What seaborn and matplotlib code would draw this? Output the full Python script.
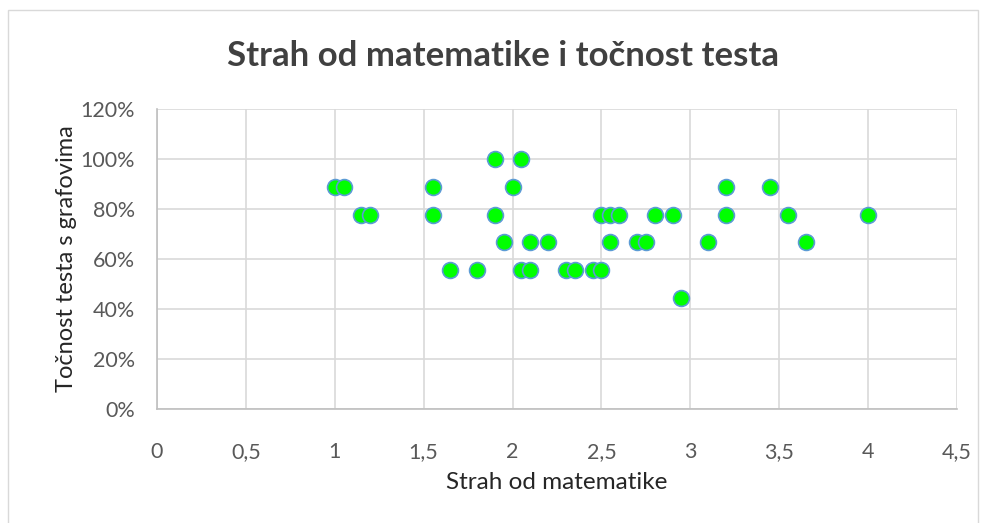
import numpy as np
import pandas as pd
import seaborn as sns
import matplotlib.pyplot as plt
from matplotlib.patches import Rectangle
from matplotlib.ticker import FuncFormatter, MultipleLocator

# strah od matematike (x) i točnost testa (y)
strah = [1.0, 1.05, 1.15, 1.2, 1.55, 1.55, 1.65, 1.8, 1.9, 1.9,
         1.95, 2.0, 2.05, 2.05, 2.1, 2.1, 2.2, 2.3, 2.35, 2.45,
         2.5, 2.5, 2.55, 2.55, 2.6, 2.7, 2.75, 2.8, 2.9, 2.95,
         3.1, 3.2, 3.2, 3.45, 3.55, 3.65, 4.0]
tocnost = [0.889, 0.889, 0.778, 0.778, 0.889, 0.778, 0.556, 0.556, 1.0, 0.778,
           0.667, 0.889, 1.0, 0.556, 0.667, 0.556, 0.667, 0.556, 0.556, 0.556,
           0.556, 0.778, 0.778, 0.667, 0.778, 0.667, 0.667, 0.778, 0.778, 0.444,
           0.667, 0.889, 0.778, 0.889, 0.778, 0.667, 0.778]

df = pd.DataFrame({'strah': strah, 'tocnost': tocnost})

sns.set_style('white')
plt.rcParams['font.family'] = ['Lato', 'DejaVu Sans']

fig = plt.figure(figsize=(9.87, 5.23), dpi=100)
fig.patches.append(Rectangle((8 / 987, -0.1), 970 / 987, 1.1 - 10 / 523,
                             transform=fig.transFigure, fill=False,
                             edgecolor='#d9d9d9', linewidth=1))
ax = fig.add_axes([157 / 987, 1 - 409 / 523, 800 / 987, 300 / 523])

sns.scatterplot(data=df, x='strah', y='tocnost', ax=ax, s=130,
                color='#00ff00', edgecolor='#5b9bd5', linewidth=1.2, zorder=3)

ax.set_xlim(0, 4.5)
ax.set_ylim(0, 1.2)
ax.xaxis.set_major_locator(MultipleLocator(0.5))
ax.yaxis.set_major_locator(MultipleLocator(0.2))
ax.xaxis.set_major_formatter(FuncFormatter(lambda v, p: f'{v:g}'.replace('.', ',')))
ax.yaxis.set_major_formatter(FuncFormatter(lambda v, p: f'{v * 100:.0f}%'))

ax.grid(True, color='#d9d9d9', linewidth=1.2)
ax.set_axisbelow(True)
for s in ['top', 'right']:
    ax.spines[s].set_visible(False)
for s in ['left', 'bottom']:
    ax.spines[s].set_color('#bfbfbf')
    ax.spines[s].set_linewidth(1.2)
ax.tick_params(axis='x', length=0, pad=24, labelsize=15.5, labelcolor='#595959')
ax.tick_params(axis='y', length=0, pad=16, labelsize=15.5, labelcolor='#595959')

ax.set_xlabel('Strah od matematike', fontsize=17.5, color='#262626', labelpad=7)
ax.set_ylabel('Točnost testa s grafovima', fontsize=17, color='#262626', labelpad=2)
fig.text(503 / 987, 1 - 56 / 523, 'Strah od matematike i točnost testa',
         ha='center', va='center', fontsize=25, fontweight='bold', color='#404040')

fig.savefig('out.png', dpi=100)
